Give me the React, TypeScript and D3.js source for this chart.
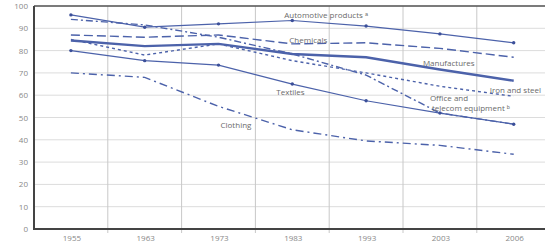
import React, { useEffect, useRef } from "react";
import * as d3 from "d3";

const years = ["1955", "1963", "1973", "1983", "1993", "2003", "2006"];
const yTicks = [0, 10, 20, 30, 40, 50, 60, 70, 80, 90, 100];

const automotive = [96, 90.5, 92, 93.5, 91, 87.5, 83.5];
const chemicals = [87, 86, 87, 83, 83.5, 81, 77];
const manufactures = [84.5, 82, 83, 78.5, 77, 71.5, 66.5];
const ironSteel = [85, 78, 83, 75.5, 70, 64, 59.5];
const officeTelecom = [94, 91.5, 86, 78.5, 69, 52, 47];
const textiles = [80, 75.5, 73.5, 65, 57.5, 52, 47];
const clothing = [70, 68, 55, 44.5, 39.5, 37.5, 33.5];

const BLUE = "#4c62aa";

// label anchors in data space: year, value, pixel nudge
const labels = [
  { text: "Automotive products ᵃ", year: "1983", value: 94.6, dx: -8 },
  { text: "Chemicals", year: "1983", value: 83.3, dx: -3 },
  { text: "Manufactures", year: "2003", value: 73, dx: -17 },
  { text: "Iron and steel", year: "2006", value: 61, dx: -24 },
  { text: "Office and", year: "2003", value: 57.4, dx: -10 },
  { text: "telecom equipment ᵇ", year: "2003", value: 52.9, dx: -8 },
  { text: "Textiles", year: "1983", value: 60, dx: -16 },
  { text: "Clothing", year: "1973", value: 45.5, dx: 2 },
];

const App = () => {
  const ref = useRef<SVGSVGElement>(null);

  useEffect(() => {
    const svg = d3.select(ref.current).attr("width", 545).attr("height", 245);
    svg.selectAll("*").remove();

    const left = 34;
    const step = 73.8;
    const x = d3
      .scaleBand()
      .domain(years)
      .range([left, left + step * years.length])
      .padding(0);
    const y = d3.scaleLinear().domain([0, 100]).range([229, 6]);
    const cx = (yr: string) => (x(yr) as number) + x.bandwidth() / 2;

    // horizontal grid
    svg
      .append("g")
      .selectAll("line")
      .data(yTicks.slice(1))
      .join("line")
      .attr("x1", left)
      .attr("x2", 545)
      .attr("y1", (d) => y(d))
      .attr("y2", (d) => y(d))
      .attr("stroke", "#dcdcdc")
      .attr("stroke-width", 1);

    // vertical grid at band boundaries
    svg
      .append("g")
      .selectAll("line")
      .data(years.slice(1))
      .join("line")
      .attr("x1", (d) => x(d) as number)
      .attr("x2", (d) => x(d) as number)
      .attr("y1", y(100))
      .attr("y2", y(0) + 4)
      .attr("stroke", "#c8c8c8")
      .attr("stroke-width", 1);

    // frame
    svg
      .append("line")
      .attr("x1", left)
      .attr("x2", 545)
      .attr("y1", y(100))
      .attr("y2", y(100))
      .attr("stroke", "#555")
      .attr("stroke-width", 1.5);
    svg
      .append("line")
      .attr("x1", left)
      .attr("x2", 545)
      .attr("y1", y(0))
      .attr("y2", y(0))
      .attr("stroke", "#444")
      .attr("stroke-width", 2);
    svg
      .append("line")
      .attr("x1", left)
      .attr("x2", left)
      .attr("y1", y(100))
      .attr("y2", y(0) + 1)
      .attr("stroke", "#444")
      .attr("stroke-width", 2);

    // y tick labels
    svg
      .append("g")
      .selectAll("text")
      .data(yTicks)
      .join("text")
      .attr("x", 28)
      .attr("y", (d) => y(d) + 3)
      .attr("text-anchor", "end")
      .attr("font-family", "'Open Sans', sans-serif")
      .attr("font-size", 8)
      .attr("fill", "#888")
      .text((d) => d);

    // x tick labels
    svg
      .append("g")
      .selectAll("text")
      .data(years)
      .join("text")
      .attr("x", (d) => cx(d) + 1)
      .attr("y", 241)
      .attr("text-anchor", "middle")
      .attr("font-family", "'Open Sans', sans-serif")
      .attr("font-size", 8)
      .attr("fill", "#888")
      .text((d) => d);

    const series = [
      { values: chemicals, width: 1.4, dash: "9,4", markers: false },
      { values: officeTelecom, width: 1.4, dash: "7,3,2,3", markers: false },
      { values: ironSteel, width: 1.4, dash: "3,3", markers: false },
      { values: clothing, width: 1.4, dash: "8,4,2,4", markers: false },
      { values: automotive, width: 1.2, dash: null, markers: true },
      { values: textiles, width: 1.2, dash: null, markers: true },
      { values: manufactures, width: 2.4, dash: null, markers: false },
    ];

    const line = d3
      .line<number>()
      .x((_, i) => cx(years[i]))
      .y((d) => y(d));

    series.forEach((s) => {
      svg
        .append("path")
        .attr("d", line(s.values))
        .attr("fill", "none")
        .attr("stroke", BLUE)
        .attr("stroke-width", s.width)
        .attr("stroke-dasharray", s.dash);
      if (s.markers) {
        svg
          .append("g")
          .selectAll("circle")
          .data(s.values)
          .join("circle")
          .attr("cx", (_, i) => cx(years[i]))
          .attr("cy", (d) => y(d))
          .attr("r", 1.7)
          .attr("fill", "#3b4f99");
      }
    });

    svg
      .append("g")
      .selectAll("text")
      .data(labels)
      .join("text")
      .attr("x", (d) => cx(d.year) + d.dx)
      .attr("y", (d) => y(d.value))
      .attr("font-family", "'Open Sans', sans-serif")
      .attr("font-size", 8)
      .attr("fill", "#6a6a6a")
      .text((d) => d.text);
  }, []);

  return (
    <svg
      ref={ref}
      style={{ position: "absolute", left: 0, top: 0, background: "#fff" }}
    ></svg>
  );
};

export default App;
